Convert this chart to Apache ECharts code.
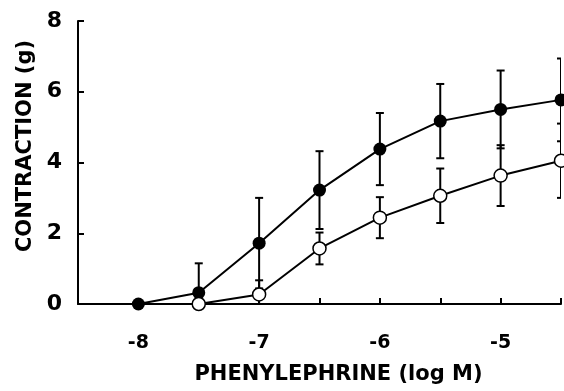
<!DOCTYPE html>
<html>
<head>
<meta charset="utf-8">
<script src="https://cdn.jsdelivr.net/npm/echarts@6/dist/echarts.min.js"></script>
<style>
  html, body { margin: 0; padding: 0; background: #fff; }
</style>
</head>
<body>
<div id="main" style="width:564px;height:391px;"></div>
<script>
// log concentration of phenylephrine
const doseFilled = [-8, -7.5, -7, -6.5, -6, -5.5, -5, -4.5];
const meanFilled = [0, 0.32, 1.72, 3.22, 4.38, 5.17, 5.50, 5.77];
const seFilled   = [0, 0.83, 1.28, 1.10, 1.02, 1.05, 1.10, 1.17];

const doseOpen = [-7.5, -7, -6.5, -6, -5.5, -5, -4.5];
const meanOpen = [0, 0.27, 1.57, 2.44, 3.06, 3.63, 4.05];
const seOpen   = [0, 0.40, 0.45, 0.58, 0.77, 0.86, 1.05];

const xTickLabels = [-8, -7, -6, -5];

const font = 'DejaVu Sans';

function errData(xs, m, se) {
  const out = [];
  for (let i = 0; i < xs.length; i++) {
    if (se[i] > 0) out.push([xs[i], m[i] - se[i], m[i] + se[i]]);
  }
  return out;
}

function renderErr(params, api) {
  const x = api.value(0);
  const hi = api.coord([x, api.value(2)]);
  const lo = api.coord([x, api.value(1)]);
  const w = 4;
  const st = { stroke: '#000', lineWidth: 2 };
  return {
    type: 'group',
    children: [
      { type: 'line', shape: { x1: hi[0], y1: hi[1], x2: lo[0], y2: lo[1] }, style: st },
      { type: 'line', shape: { x1: hi[0] - w, y1: hi[1], x2: hi[0] + w, y2: hi[1] }, style: st },
      { type: 'line', shape: { x1: lo[0] - w, y1: lo[1], x2: lo[0] + w, y2: lo[1] }, style: st }
    ]
  };
}

const chart = echarts.init(document.getElementById('main'));

chart.setOption({
  animation: false,
  grid: { left: 78, right: 2, top: 21, bottom: 87 },
  xAxis: {
    type: 'value',
    min: -8.5,
    max: -4.5,
    interval: 0.5,
    splitLine: { show: false },
    axisLine: { onZero: false, lineStyle: { color: '#000', width: 2 } },
    axisTick: { inside: true, length: 6, lineStyle: { color: '#000', width: 2 } },
    axisLabel: {
      margin: 30,
      color: '#000',
      fontFamily: font,
      fontWeight: 'bold',
      fontSize: 19,
      formatter: v => (xTickLabels.indexOf(v) >= 0 ? String(v) : '')
    },
    name: 'PHENYLEPHRINE (log M)',
    nameLocation: 'middle',
    nameGap: 60,
    nameTextStyle: {
      color: '#000', fontFamily: font, fontWeight: 'bold', fontSize: 21,
      padding: [0, 0, 0, 38]
    }
  },
  yAxis: {
    type: 'value',
    min: 0,
    max: 8,
    interval: 2,
    splitLine: { show: false },
    axisLine: { show: true, lineStyle: { color: '#000', width: 2 } },
    axisTick: { show: true, inside: true, length: 6, lineStyle: { color: '#000', width: 2 } },
    axisLabel: {
      margin: 16,
      color: '#000',
      fontFamily: font,
      fontWeight: 'bold',
      fontSize: 22
    },
    name: 'CONTRACTION (g)',
    nameLocation: 'middle',
    nameRotate: 90,
    nameGap: 38,
    nameTextStyle: {
      color: '#000', fontFamily: font, fontWeight: 'bold', fontSize: 21,
      padding: [0, 0, 0, 33]
    }
  },
  series: [
    {
      type: 'custom',
      clip: true,
      renderItem: renderErr,
      data: errData(doseFilled, meanFilled, seFilled),
      z: 1
    },
    {
      type: 'custom',
      clip: true,
      renderItem: renderErr,
      data: errData(doseOpen, meanOpen, seOpen),
      z: 1
    },
    {
      type: 'line',
      clip: false,
      symbol: 'circle',
      symbolSize: 13,
      itemStyle: { color: '#000' },
      lineStyle: { color: '#000', width: 2 },
      data: doseFilled.map((x, i) => [x, meanFilled[i]]),
      z: 3
    },
    {
      type: 'line',
      clip: false,
      symbol: 'circle',
      symbolSize: 13,
      showAllSymbol: true,
      itemStyle: { color: '#fff', borderColor: '#000', borderWidth: 1.5 },
      lineStyle: { color: '#000', width: 2 },
      data: doseOpen.map((x, i) => [x, meanOpen[i]]),
      z: 4
    }
  ]
});
</script>
</body>
</html>
